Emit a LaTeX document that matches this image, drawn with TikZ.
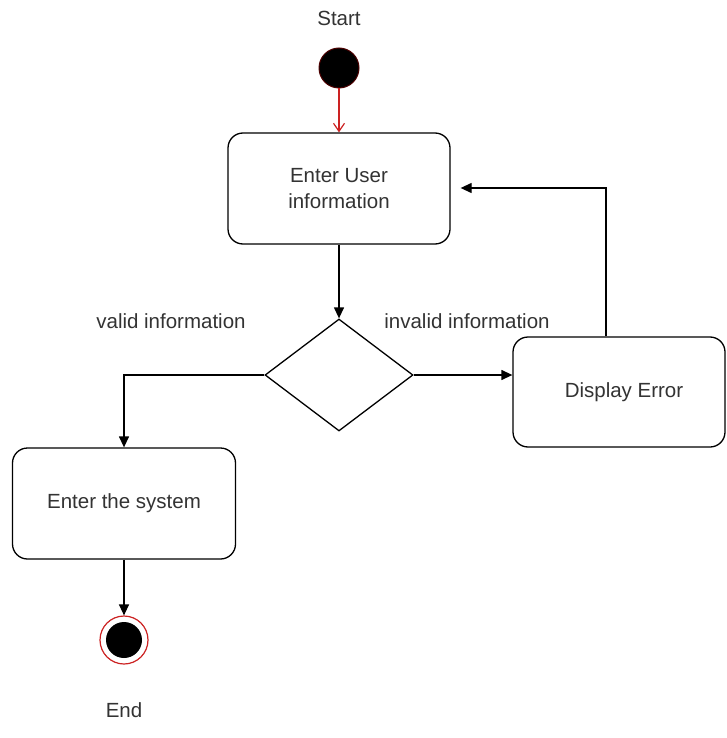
\documentclass[tikz,border=0pt]{standalone}
\usepackage{fontspec}
\setmainfont{Liberation Sans}
\usetikzlibrary{shapes.geometric,arrows.meta}
\definecolor{txt}{HTML}{333333}
\definecolor{ringred}{HTML}{CC2222}
\tikzset{
  act/.style={draw=black, line width=1.3pt, rounded corners=15pt, fill=white, text=txt, align=center, font=\fontsize{20.5}{26}\selectfont},
  lbl/.style={text=txt, font=\fontsize{20.5}{26}\selectfont},
  conn/.style={draw=black, line width=1.3pt, -{Triangle[length=11pt,width=10pt]}},
}
\begin{document}
\begin{tikzpicture}[x=1pt,y=-1pt]
\useasboundingbox (0,0) rectangle (726,738);
\node[lbl] (starttxt) at (339,18) {Start};
\node[circle, fill=black, draw=black!70!red, line width=1pt, minimum size=40pt, inner sep=0pt] (start) at (339,68) {};
\node[act, minimum width=222pt, minimum height=111pt] (enter) at (339,188.5) {Enter User\\information};
\node[diamond, draw=black, line width=1.3pt, fill=white, minimum width=148pt, minimum height=112pt, inner sep=0pt, aspect=1.32] (dec) at (339,375) {};
\node[act, minimum width=223pt, minimum height=111pt] (sys) at (124,503.5) {Enter the system};
\node[act, minimum width=212pt, minimum height=110pt] (err) at (619,392) {\hspace*{10pt}Display Error};
\node[circle, fill=white, draw=ringred, line width=1.2pt, minimum size=48pt, inner sep=0pt] (endc) at (124,640) {};
\node[circle, fill=black, minimum size=36pt, inner sep=0pt] at (endc) {};
\node[lbl] (endtxt) at (124,710) {End};
\node[lbl] (validl) at (171,321) {valid information};
\node[lbl] (invalidl) at (467,321) {invalid information};
\coordinate (c1) at (124,375);
\coordinate (c2) at (606,188);
\draw[draw=ringred, line width=1.2pt, -{Straight Barb[length=8pt,width=11pt]}] (start.south) -- (enter.north);
\draw[conn] (enter.south) -- (dec.north);
\draw[conn] (dec.west) -- (c1) -- (sys.north);
\draw[conn] (dec.east) -- (dec.east -| err.west);
\draw[conn] (sys.south) -- (endc.north);
\draw[conn] (err.north -| c2) -- (c2) -- ([xshift=10pt]enter.east |- c2);
\end{tikzpicture}
\end{document}
